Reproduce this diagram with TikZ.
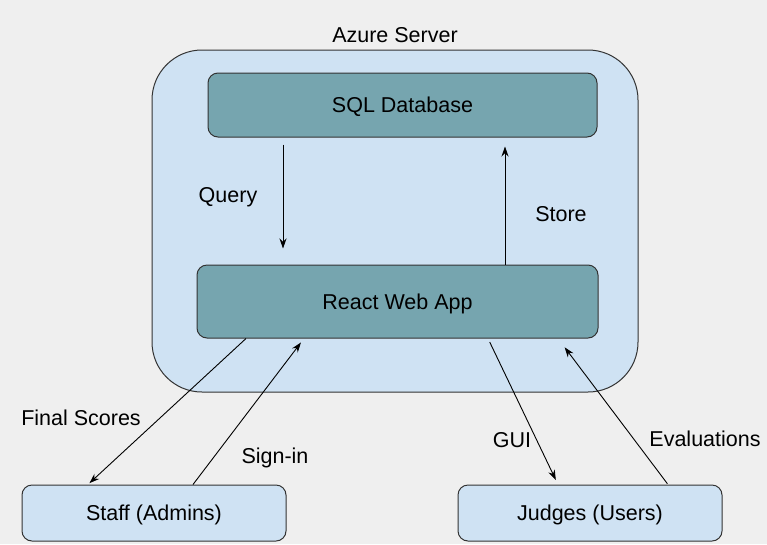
\documentclass[tikz,border=0pt]{standalone}
\usepackage{fontspec}
\setmainfont{Liberation Sans}
\usetikzlibrary{arrows.meta}
\definecolor{bgc}{HTML}{EFEFEF}
\definecolor{teal}{HTML}{76A5AF}
\definecolor{lblue}{HTML}{CFE2F3}
\definecolor{edge}{HTML}{333333}
\begin{document}
\begin{tikzpicture}[x=1pt,y=-1pt,
  txt/.style={font=\fontsize{21.5}{25}\selectfont, text=black, inner sep=0pt},
  box/.style={draw=edge, line width=1pt, rounded corners=10pt, inner sep=0pt, text height=15pt, text depth=0pt, font=\fontsize{21.5}{25}\selectfont},
  arr/.style={draw=black, line width=0.9pt, -{Stealth[length=10pt,width=7pt]}}]
\fill[bgc] (0,0) rectangle (767,544);
\useasboundingbox (0,0) rectangle (767,544);
\node[box, fill=lblue, rounded corners=50pt, minimum width=486pt, minimum height=342pt] (azure) at (395,221) {};
\node[txt] (azlabel) at (395,35) {Azure Server};
\node[box, fill=teal, minimum width=389pt, minimum height=64pt] (sql) at (402.5,105) {SQL Database};
\node[box, fill=teal, minimum width=401pt, minimum height=73pt] (react) at (397.5,301.5) {React Web App};
\node[box, fill=lblue, minimum width=264pt, minimum height=56pt] (staff) at (154,513) {Staff (Admins)};
\node[box, fill=lblue, minimum width=264pt, minimum height=56pt] (judges) at (590,513) {Judges (Users)};
\draw[arr, shorten <=7pt, shorten >=16pt] ([xshift=-119.5pt]sql.south) -- ([xshift=-114.5pt]react.north);
\draw[arr, shorten >=9pt] ([xshift=107.5pt]react.north) -- ([xshift=102.5pt]sql.south);
\draw[arr, shorten >=2pt] ([xshift=-151.5pt]react.south) -- ([xshift=-66pt]staff.north);
\draw[arr, shorten >=5pt] ([xshift=39pt]staff.north) -- ([xshift=-93.5pt]react.south);
\draw[arr, shorten <=4pt, shorten >=5pt] ([xshift=90.5pt]react.south) -- ([xshift=-32pt]judges.north);
\draw[arr, shorten <=1pt, shorten >=11pt] ([xshift=78pt]judges.north) -- ([xshift=160.5pt]react.south);
\node[txt] (lquery) at (228,197) {Query};
\node[txt] (lstore) at (561,214) {Store};
\node[txt] (lfinal) at (81,418) {Final Scores};
\node[txt] (lsign) at (275,458) {Sign-in};
\node[txt] (lgui) at (512,440) {GUI};
\node[txt] (leval) at (705,439) {Evaluations};
\end{tikzpicture}
\end{document}
